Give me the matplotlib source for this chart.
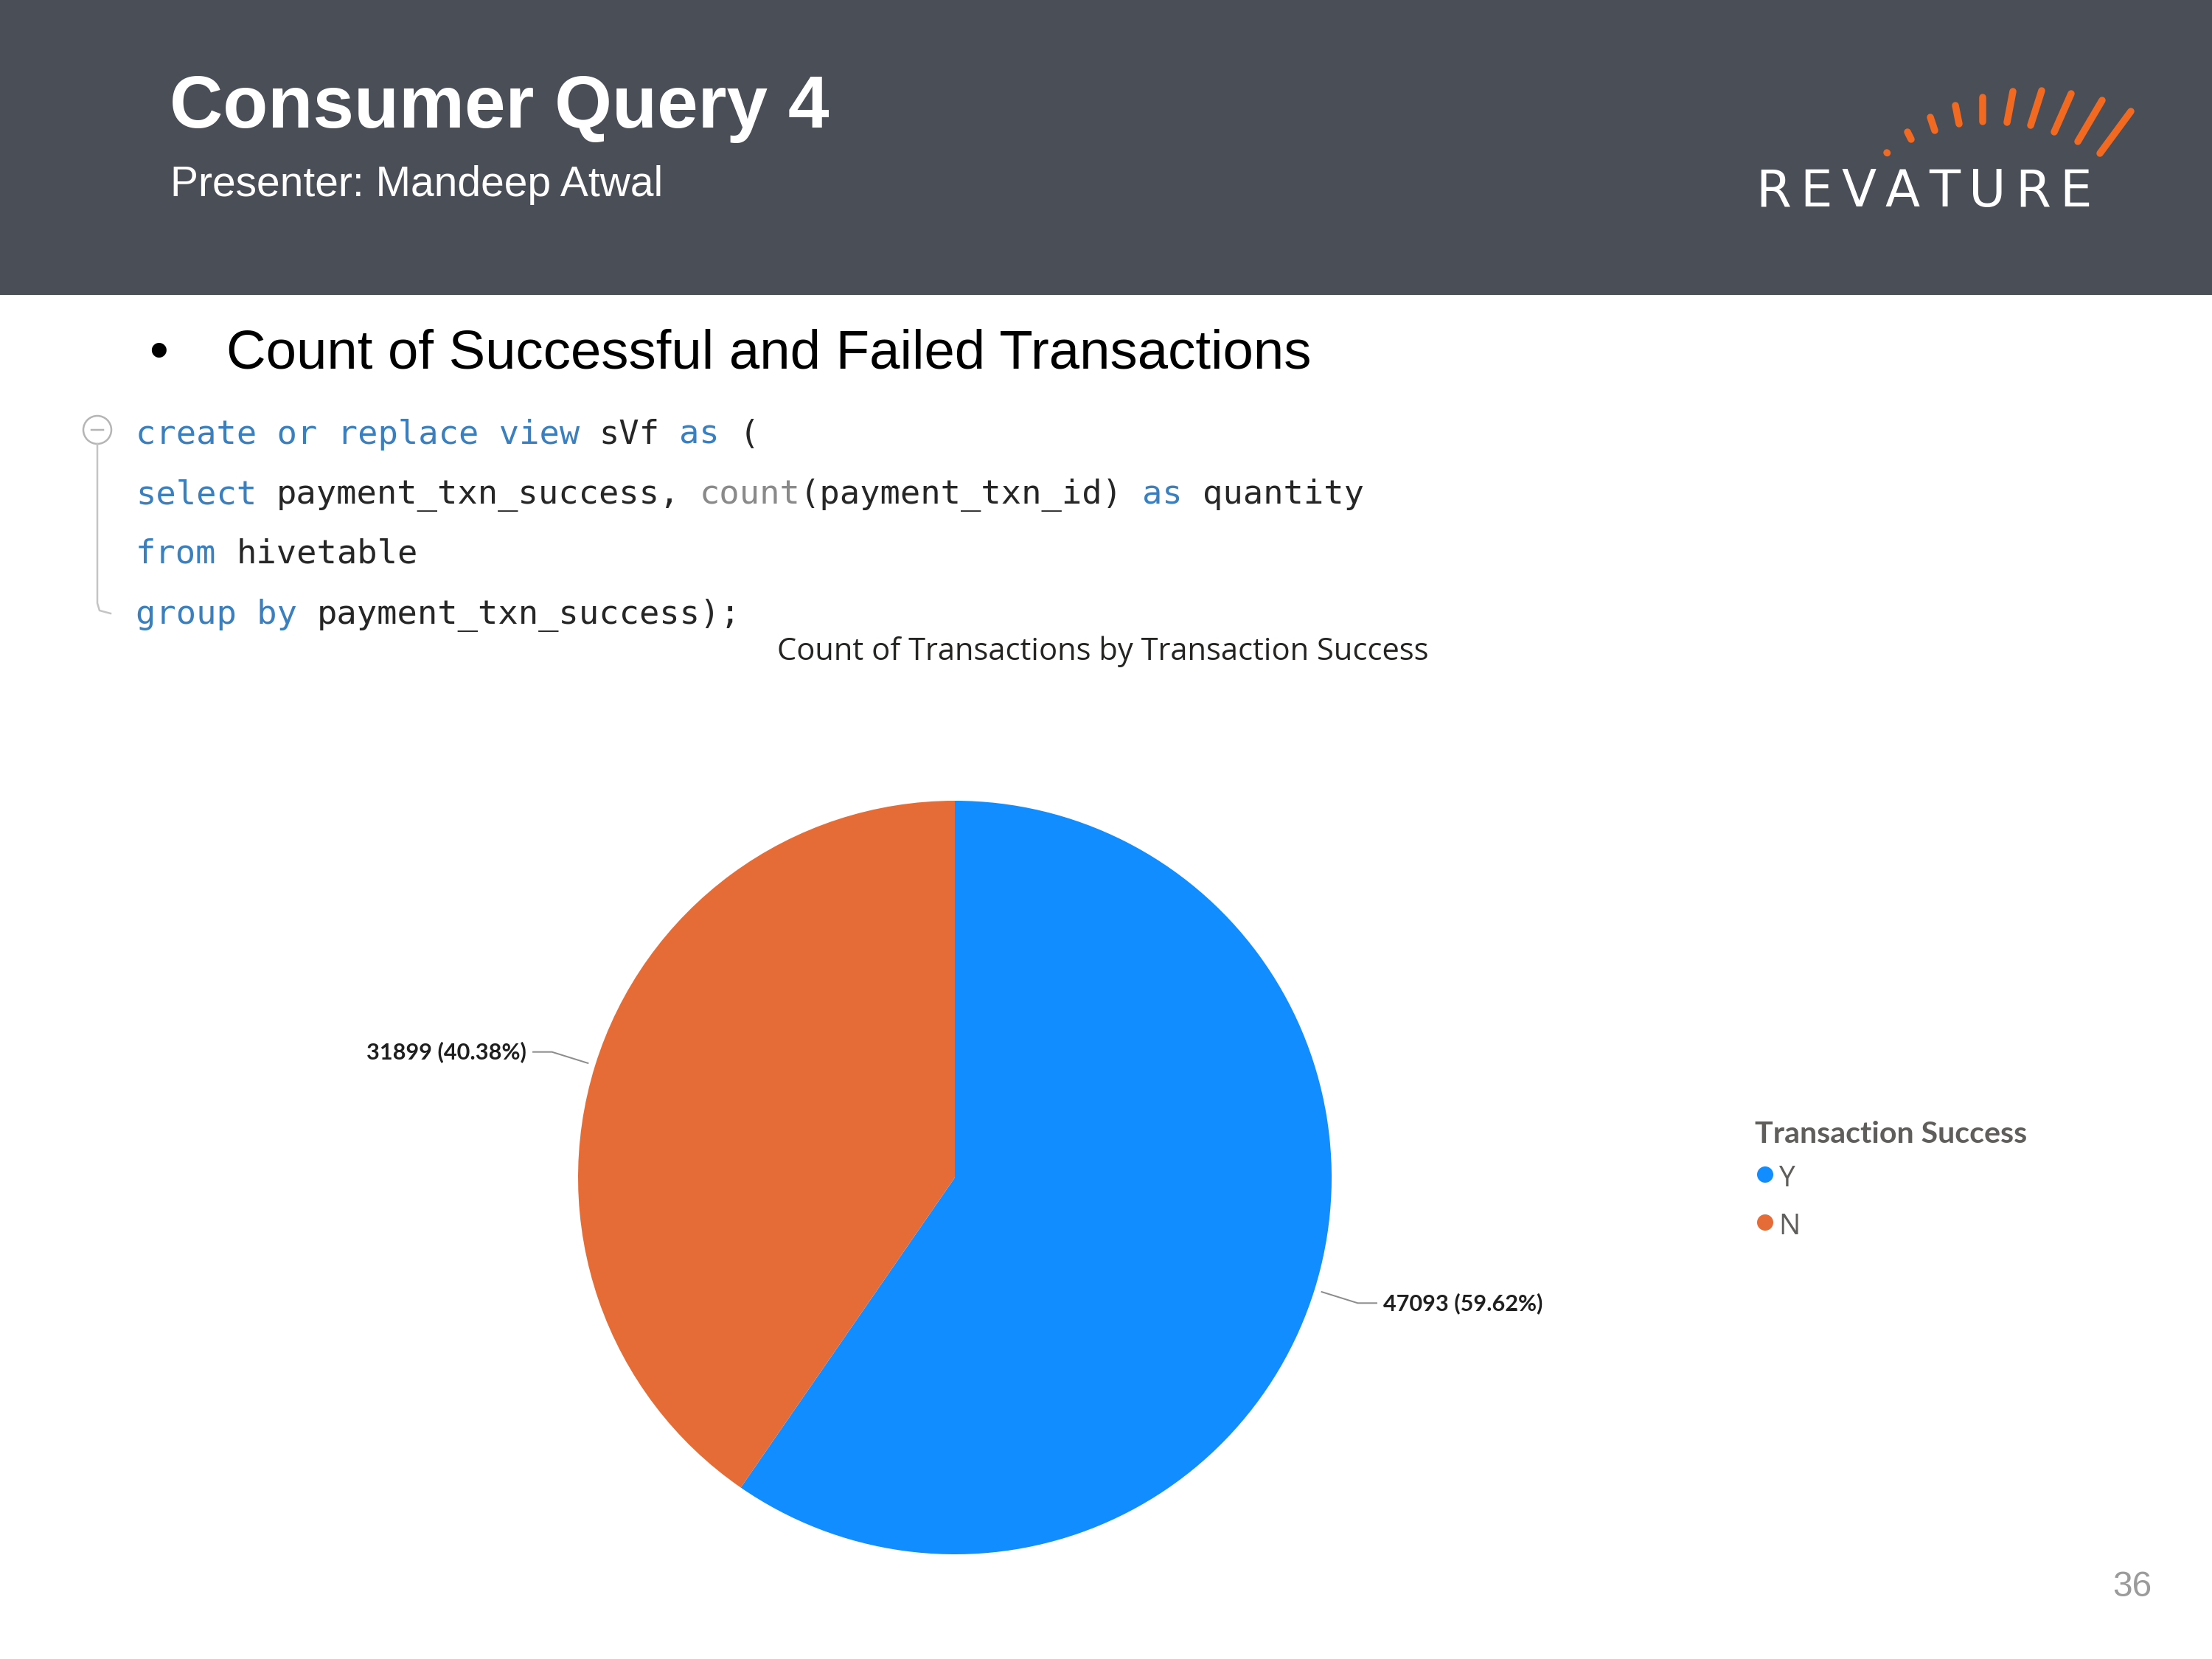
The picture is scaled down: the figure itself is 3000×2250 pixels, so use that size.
"""Slide 36: count of successful vs failed transactions, pie with SQL snippet."""

import matplotlib

matplotlib.use("Agg")
import matplotlib.pyplot as plt
from matplotlib.patches import Circle, Rectangle
import numpy as np

# chart data
CATEGORIES = ["Y", "N"]
COUNTS = [47093, 31899]
PERCENT_LABELS = ["59.62%", "40.38%"]
SLICE_COLORS = ["#118DFF", "#E66C37"]

SLIDE_TITLE = "Consumer Query 4"
SLIDE_SUBTITLE = "Presenter: Mandeep Atwal"
BULLET_TEXT = "Count of Successful and Failed Transactions"
CHART_TITLE = "Count of Transactions by Transaction Success"
LEGEND_TITLE = "Transaction Success"
PAGE_NUMBER = "36"

CODE_LINES = [
    [("create or replace view", "kw"), (" sVf ", "id"), ("as", "kw"), (" (", "id")],
    [("select", "kw"), (" payment_txn_success, ", "id"), ("count", "fn"),
     ("(payment_txn_id) ", "id"), ("as", "kw"), (" quantity", "id")],
    [("from", "kw"), (" hivetable", "id")],
    [("group by", "kw"), (" payment_txn_success);", "id")],
]
CODE_COLORS = {"kw": "#3a80c0", "id": "#262626", "fn": "#8a8a8a"}

# logo decoration (pixel coords of the orange strokes)
LOGO_DASHES = [
    ((2559, 207), (2559.5, 207.5)),
    ((2587, 179), (2592, 189)),
    ((2618, 159), (2624, 177)),
    ((2652, 143), (2657, 168)),
    ((2689, 132), (2689, 165)),
    ((2730, 124), (2722, 166)),
    ((2769, 123), (2754, 170)),
    ((2809, 127), (2786, 179)),
    ((2851, 136), (2818, 192)),
    ((2890, 151), (2848, 208)),
]
LOGO_WORD = "REVATURE"

W, H, DPI = 3000, 2250, 100
PT = 72.0 / DPI  # points per pixel

HEADER = "#4a4e57"
SANS = ["Liberation Sans", "DejaVu Sans"]
UI = ["Open Sans", "DejaVu Sans"]
UI_BOLD = ["Lato", "DejaVu Sans"]


def fit_width(text, width, renderer):
    box = text.get_window_extent(renderer=renderer)
    text.set_fontsize(text.get_fontsize() * width / box.width)


fig = plt.figure(figsize=(W / DPI, H / DPI), dpi=DPI)
fig.patch.set_facecolor("white")
renderer = fig.canvas.get_renderer()

bg = fig.add_axes([0, 0, 1, 1])
bg.set_xlim(0, W)
bg.set_ylim(H, 0)
bg.axis("off")

# header band
bg.add_patch(Rectangle((0, 0), W, 400, color=HEADER, lw=0))
bg.text(230, 173, SLIDE_TITLE, color="white", fontsize=100 * PT,
        fontweight="bold", family=SANS, va="baseline", ha="left")
bg.text(231, 266, SLIDE_SUBTITLE, color="white", fontsize=57 * PT,
        family=SANS, va="baseline", ha="left")

# logo: orange strokes, then the word spread evenly over its width
for (x0, y0), (x1, y1) in LOGO_DASHES:
    bg.plot([x0, x1], [y0, y1], color="#F26A21", lw=9.5 * PT,
            solid_capstyle="round")
letters = [bg.text(0, 280, ch, color="white", fontsize=69 * PT,
                   family=["DejaVu Sans"], ha="left", va="baseline")
           for ch in LOGO_WORD]
widths = [t.get_window_extent(renderer=renderer).width for t in letters]
logo_left, logo_right = 2381, 2837
gap = (logo_right - logo_left - sum(widths)) / (len(letters) - 1)
x = logo_left
for t, w in zip(letters, widths):
    t.set_x(x)
    x += w + gap

# bullet line
bg.text(215, 500, "\u2022", fontsize=74 * PT, family=SANS,
        ha="center", va="baseline", color="black")
bg.text(307, 500, BULLET_TEXT, fontsize=74.4 * PT, family=SANS,
        ha="left", va="baseline", color="black")

# SQL snippet
char_w = 27.3
code_size = char_w / 0.602 * PT
baselines = [602, 683, 764, 846]
for tokens, base in zip(CODE_LINES, baselines):
    col = 0
    for token, kind in tokens:
        lead = len(token) - len(token.lstrip())
        if token.strip():
            bg.text(184 + char_w * (col + lead), base, token.strip(),
                    fontsize=code_size, family=["DejaVu Sans Mono"],
                    color=CODE_COLORS[kind], ha="left", va="baseline")
        col += len(token)

# editor fold gutter
bg.add_patch(Circle((132, 583), 19, facecolor="white", edgecolor="#b5b5b5",
                    lw=2.5 * PT))
bg.plot([124, 140], [583, 583], color="#b5b5b5", lw=2.5 * PT)
bg.plot([132, 132, 135, 150], [602, 818, 828, 832], color="#c4c4c4",
        lw=2.5 * PT)

# chart title
title = bg.text(1054, 895, CHART_TITLE, fontsize=38 * PT, family=UI,
                color="#252423", ha="left", va="baseline")
fit_width(title, 884, renderer)

# pie
cx, cy, R = 1295, 1597, 511
side = 1400
pie_ax = fig.add_axes([(cx - side / 2) / W, (H - cy - side / 2) / H,
                       side / W, side / H])
lim = side / 2 / R

wedges, _ = pie_ax.pie(COUNTS, colors=SLICE_COLORS, startangle=90,
                       counterclock=False, radius=1.0,
                       wedgeprops=dict(linewidth=0))
pie_ax.set_xlim(-lim, lim)
pie_ax.set_ylim(-lim, lim)
pie_ax.set_aspect("equal")
pie_ax.axis("off")

for wedge, count, pct in zip(wedges, COUNTS, PERCENT_LABELS):
    theta = np.deg2rad((wedge.theta1 + wedge.theta2) / 2)
    ux, uy = np.cos(theta), np.sin(theta)
    side_sign = 1 if ux >= 0 else -1
    p0 = (1.02 * ux, 1.02 * uy)
    p1 = (1.12 * ux, 1.12 * uy)
    p2 = (p1[0] + side_sign * 0.05, p1[1])
    pie_ax.plot([p0[0], p1[0], p2[0]], [p0[1], p1[1], p2[1]],
                color="#8c8c8c", lw=2 * PT, clip_on=False)
    label = pie_ax.text(p2[0] + side_sign * 0.017, p2[1], f"{count} ({pct})",
                        fontsize=30 * PT, family=UI_BOLD, fontweight="bold",
                        color="#1f1f1f", ha="left" if side_sign > 0 else "right",
                        va="center", clip_on=False)
    fit_width(label, 216, renderer)

# legend
leg_title = bg.text(2380, 1550, LEGEND_TITLE, fontsize=40 * PT,
                    family=UI_BOLD, fontweight="bold", color="#605E5C",
                    ha="left", va="baseline")
fit_width(leg_title, 370, renderer)
for i, (cat, color) in enumerate(zip(CATEGORIES, SLICE_COLORS)):
    y = 1593 + i * 65
    bg.add_patch(Circle((2394, y), 11, color=color, lw=0))
    bg.text(2412, y + 16, cat, fontsize=39 * PT, family=UI,
            color="#605E5C", ha="left", va="baseline")

# page number
bg.text(2865, 2165, PAGE_NUMBER, fontsize=48 * PT, family=SANS,
        color="#9b9b9b", ha="left", va="baseline")

fig.savefig("out.png", dpi=DPI, facecolor="white")
